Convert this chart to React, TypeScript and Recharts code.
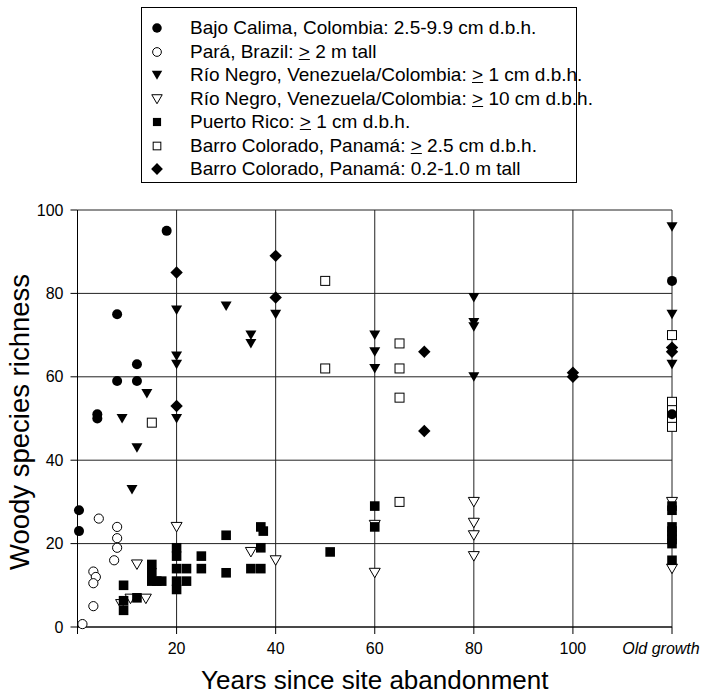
import React from 'react';
import { ScatterChart, Scatter, XAxis, YAxis, CartesianGrid, Legend } from 'recharts';

const OG = 120; // "Old growth" position on the x axis

const xTicks = [0, 20, 40, 60, 80, 100, OG];
const xTickLabels = ['', '20', '40', '60', '80', '100', 'Old growth'];
const yTicks = [0, 20, 40, 60, 80, 100];

const bajoCalima = [
  { x: 0.3, y: 28 }, { x: 0.3, y: 23 }, { x: 4, y: 51 }, { x: 4, y: 50 },
  { x: 8, y: 75 }, { x: 8, y: 59 }, { x: 12, y: 63 }, { x: 12, y: 59 },
  { x: 18, y: 95 }, { x: OG, y: 83 }, { x: OG, y: 51 },
];

const para = [
  { x: 1, y: 0.7 }, { x: 4.3, y: 26 }, { x: 8, y: 24 }, { x: 8, y: 21.3 },
  { x: 8, y: 19 }, { x: 7.4, y: 16 }, { x: 3.2, y: 13.3 }, { x: 3.7, y: 12 },
  { x: 3.2, y: 10.5 }, { x: 3.2, y: 5 },
];

const rioNegro1 = [
  { x: 9, y: 50 }, { x: 11, y: 33 }, { x: 12, y: 43 }, { x: 14, y: 56 },
  { x: 20, y: 50 }, { x: 20, y: 63 }, { x: 20, y: 65 }, { x: 20, y: 76 },
  { x: 30, y: 77 }, { x: 35, y: 70 }, { x: 35, y: 68 }, { x: 40, y: 75 },
  { x: 60, y: 70 }, { x: 60, y: 66 }, { x: 60, y: 62 },
  { x: 80, y: 79 }, { x: 80, y: 73 }, { x: 80, y: 72 }, { x: 80, y: 60 },
  { x: OG, y: 96 }, { x: OG, y: 75 }, { x: OG, y: 63 },
];

const rioNegro10 = [
  { x: 8.8, y: 5.5 }, { x: 10.7, y: 6.8 }, { x: 13.8, y: 6.8 }, { x: 12, y: 15 },
  { x: 20, y: 24 }, { x: 35, y: 18 }, { x: 40, y: 16 }, { x: 60, y: 24.5 },
  { x: 60, y: 13 }, { x: 80, y: 30 }, { x: 80, y: 25 }, { x: 80, y: 22 },
  { x: 80, y: 17 }, { x: OG, y: 30 }, { x: OG, y: 14 },
];

const puertoRico = [
  { x: 9.3, y: 10 }, { x: 9.3, y: 6.3 }, { x: 9.3, y: 4 }, { x: 12, y: 7 },
  { x: 15, y: 15 }, { x: 15, y: 13 }, { x: 15, y: 11 }, { x: 16, y: 11 }, { x: 17, y: 11 },
  { x: 20, y: 19 }, { x: 20, y: 17 }, { x: 20, y: 14 }, { x: 22, y: 14 },
  { x: 20, y: 11 }, { x: 22, y: 11 }, { x: 20, y: 9 },
  { x: 25, y: 17 }, { x: 25, y: 14 }, { x: 30, y: 22 }, { x: 30, y: 13 },
  { x: 35, y: 14 }, { x: 37, y: 14 }, { x: 37, y: 19 }, { x: 37, y: 24 }, { x: 37.5, y: 23 },
  { x: 51, y: 18 }, { x: 60, y: 29 }, { x: 60, y: 24 },
  { x: OG, y: 29 }, { x: OG, y: 28 }, { x: OG, y: 24 }, { x: OG, y: 23 },
  { x: OG, y: 22 }, { x: OG, y: 21 }, { x: OG, y: 20 }, { x: OG, y: 16 },
];

const barro25 = [
  { x: 15, y: 49 }, { x: 50, y: 83 }, { x: 50, y: 62 }, { x: 65, y: 68 },
  { x: 65, y: 62 }, { x: 65, y: 55 }, { x: 65, y: 30 },
  { x: OG, y: 70 }, { x: OG, y: 54 }, { x: OG, y: 52 }, { x: OG, y: 50 }, { x: OG, y: 48 },
];

const barroSeedlings = [
  { x: 20, y: 85 }, { x: 20, y: 53 }, { x: 40, y: 89 }, { x: 40, y: 79 },
  { x: 70, y: 66 }, { x: 70, y: 47 }, { x: 100, y: 61 }, { x: 100, y: 60 },
  { x: OG, y: 67 }, { x: OG, y: 66 },
];

const seriesNames = [
  'Bajo Calima, Colombia: 2.5-9.9 cm d.b.h.',
  'Pará, Brazil: ≥ 2 m tall',
  'Río Negro, Venezuela/Colombia: ≥ 1 cm d.b.h.',
  'Río Negro, Venezuela/Colombia: ≥ 10 cm d.b.h.',
  'Puerto Rico: ≥ 1 cm d.b.h.',
  'Barro Colorado, Panamá: ≥ 2.5 cm d.b.h.',
  'Barro Colorado, Panamá: 0.2-1.0 m tall',
];

const FONT = "'Liberation Sans', Arial, Helvetica, sans-serif";

type Kind = 'fc' | 'oc' | 'ft' | 'ot' | 'fs' | 'os' | 'fd';

function Marker({ kind, cx, cy, s = 1 }: { kind: Kind; cx: number; cy: number; s?: number }) {
  const black = '#000';
  switch (kind) {
    case 'fc':
      return <circle cx={cx} cy={cy} r={5 * s} fill={black} />;
    case 'oc':
      return <circle cx={cx} cy={cy} r={4.6 * s} fill="#fff" stroke={black} strokeWidth={1} />;
    case 'ft':
    case 'ot': {
      const w = 5.5 * s, h1 = 4.5 * s, h2 = 5 * s;
      const pts = `${cx - w},${cy - h1} ${cx + w},${cy - h1} ${cx},${cy + h2}`;
      return kind === 'ft'
        ? <polygon points={pts} fill={black} />
        : <polygon points={pts} fill="#fff" stroke={black} strokeWidth={1} />;
    }
    case 'fs':
      return <rect x={cx - 4.8 * s} y={cy - 4.8 * s} width={9.6 * s} height={9.6 * s} fill={black} />;
    case 'os':
      return <rect x={cx - 4.5 * s} y={cy - 4.5 * s} width={9 * s} height={9 * s} fill="#fff" stroke={black} strokeWidth={1} />;
    case 'fd': {
      const r = 6.2 * s;
      return <polygon points={`${cx},${cy - r} ${cx + r},${cy} ${cx},${cy + r} ${cx - r},${cy}`} fill={black} />;
    }
  }
  return null;
}

const series: { name: string; data: { x: number; y: number }[]; kind: Kind }[] = [
  { name: seriesNames[0], data: bajoCalima, kind: 'fc' },
  { name: seriesNames[1], data: para, kind: 'oc' },
  { name: seriesNames[2], data: rioNegro1, kind: 'ft' },
  { name: seriesNames[3], data: rioNegro10, kind: 'ot' },
  { name: seriesNames[4], data: puertoRico, kind: 'fs' },
  { name: seriesNames[5], data: barro25, kind: 'os' },
  { name: seriesNames[6], data: barroSeedlings, kind: 'fd' },
];

// drawing order (later on top): Bajo Calima circles sit over the open squares
const drawOrder = [1, 2, 3, 4, 5, 0, 6];

function renderLabelText(text: string) {
  const parts = text.split('≥');
  if (parts.length === 1) return text;
  return (
    <>
      {parts[0]}
      <span style={{ textDecoration: 'underline' }}>&gt;</span>
      {parts[1]}
    </>
  );
}

const LegendBox = () => (
  <div
    style={{
      boxSizing: 'border-box',
      width: 436,
      height: 176,
      border: '1px solid #000',
      paddingTop: 8.5,
      fontFamily: FONT,
      fontSize: 19,
      color: '#000',
      background: '#fff',
    }}
  >
    {series.map((s) => (
      <div key={s.name} style={{ height: 23.5, display: 'flex', alignItems: 'center', whiteSpace: 'nowrap' }}>
        <svg width={16} height={16} style={{ marginLeft: 7, flex: 'none' }}>
          <Marker kind={s.kind} cx={8} cy={8} s={s.kind === 'fs' || s.kind === 'os' ? 0.85 : 0.95} />
        </svg>
        <span style={{ marginLeft: 25 }}>{renderLabelText(s.name)}</span>
      </div>
    ))}
  </div>
);

const XTick = (props: any) => {
  const { x, y, payload } = props;
  const idx = xTicks.indexOf(payload.value);
  const label = idx >= 0 ? xTickLabels[idx] : String(payload.value);
  const isOG = payload.value === OG;
  return (
    <text
      x={x}
      y={y}
      dy="0.71em"
      dx={isOG ? -11 : 0}
      textAnchor="middle"
      fontFamily={FONT}
      fontSize={16}
      fontStyle={isOG ? 'italic' : 'normal'}
      fill="#000"
    >
      {label}
    </text>
  );
};

export default function App() {
  return (
    <div style={{ position: 'absolute', left: 0, top: 0, width: 703, height: 695, background: '#fff' }}>
      <ScatterChart width={703} height={695} margin={{ top: 210, right: 31, bottom: 28, left: 0 }}>
        <CartesianGrid stroke="#222" strokeWidth={1} fill="none" />
        <XAxis
          type="number"
          dataKey="x"
          domain={[0, OG]}
          ticks={xTicks}
          interval={0}
          height={40}
          tickSize={7}
          tickMargin={9}
          axisLine={{ stroke: '#000' }}
          tickLine={{ stroke: '#000' }}
          tick={<XTick />}
          label={{
            content: (p: any) => {
              const vb = p.viewBox || {};
              return (
                <text
                  x={(vb.x ?? 77.5) + (vb.width ?? 594.5) / 2}
                  y={689}
                  textAnchor="middle"
                  fontFamily={FONT}
                  fontSize={26}
                  fill="#000"
                >
                  Years since site abandonment
                </text>
              );
            },
          }}
        />
        <YAxis
          type="number"
          dataKey="y"
          domain={[0, 100]}
          ticks={yTicks}
          interval={0}
          width={77.5}
          tickSize={7}
          tickMargin={7}
          axisLine={{ stroke: '#000' }}
          tickLine={{ stroke: '#000' }}
          tick={{ fontFamily: FONT, fontSize: 16, fill: '#000' }}
          label={{
            content: () => (
              <text
                x={29}
                y={422}
                transform="rotate(-90 29 422)"
                textAnchor="middle"
                fontFamily={FONT}
                fontSize={27.5}
                fill="#000"
              >
                Woody species richness
              </text>
            ),
          }}
        />
        <Legend
          layout="horizontal"
          verticalAlign="middle"
          align="center"
          wrapperStyle={{ top: 7, left: 141, width: 436, height: 176 }}
          content={() => <LegendBox />}
        />
        {drawOrder.map((i) => {
          const s = series[i];
          return (
            <Scatter
              key={s.name}
              name={s.name}
              data={s.data}
              isAnimationActive={false}
              shape={(p: any) => <Marker kind={s.kind} cx={p.cx} cy={p.cy} />}
            />
          );
        })}
      </ScatterChart>
    </div>
  );
}
